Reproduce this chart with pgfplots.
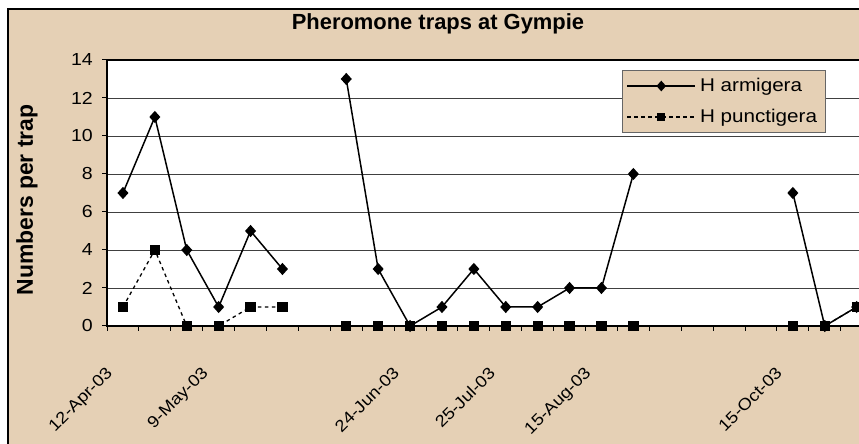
\documentclass[border=0pt]{standalone}
\usepackage{pgfplots}
\pgfplotsset{compat=1.18}
\usepackage{fontspec}
\setmainfont{Liberation Sans}
\newfontfamily\widefont[FakeStretch=1.12]{Liberation Sans}
\definecolor{charttan}{RGB}{229,208,181}
\pgfplotsset{
  longlegend/.style={legend image code/.code={%
    \draw[mark repeat=2,mark phase=2,##1] plot coordinates {(0bp,0bp) (34bp,0bp) (68bp,0bp)};}},
}
\begin{document}
\begin{tikzpicture}[x=1bp,y=1bp]
\useasboundingbox (0,0) rectangle (859,444);
\clip (0,0) rectangle (859,444);
\fill[white] (0,0) rectangle (859,444);
% chart area
\filldraw[fill=charttan, draw=black, line width=1.5bp] (8,-20) rectangle (900,435);
\begin{axis}[
  at={(107bp,118bp)}, anchor=south west,
  scale only axis, width=765.6bp, height=266bp,
  xmin=-0.5, xmax=23.5, ymin=0, ymax=14,
  axis background/.style={fill=white},
  axis line style={black, line width=1.3bp},
  unbounded coords=jump,
  xtick={-0.5,0.5,...,23.5}, xticklabels={},
  extra x ticks={0,3,9,12,15,21},
  extra x tick labels={12-Apr-03,9-May-03,24-Jun-03,25-Jul-03,15-Aug-03,15-Oct-03},
  extra x tick style={major tick length=0pt,
    xticklabel style={font=\widefont\fontsize{16.5}{20}\selectfont,
      xshift=-18bp, yshift=-40bp, rotate=45, anchor=north east, inner sep=0pt}},
  ytick={0,2,...,14},
  ymajorgrids, grid style={black!75, line width=0.8bp},
  tick align=outside, major tick length=5bp,
  tick style={black, line width=1bp},
  xtick pos=left, ytick pos=left,
  yticklabel style={font=\widefont\fontsize{17.5}{21}\selectfont,
    anchor=east, inner sep=0pt, xshift=-9bp},
  /pgf/number format/assume math mode=true,
  title={Pheromone traps at Gympie},
  title style={font=\bfseries\fontsize{22}{26}\selectfont,
    at={(axis description cs:0.4323,1.094)}, anchor=base},
  ylabel={Numbers per trap},
  ylabel style={font=\bfseries\fontsize{23}{27}\selectfont,
    at={(axis description cs:-0.1045,0.4737)}, anchor=center},
  legend style={at={(axis description cs:0.6727,0.962)}, anchor=north west,
    fill=charttan, draw=black!60, line width=1bp,
    font=\widefont\fontsize{18.5}{22}\selectfont, cells={anchor=west},
    inner xsep=4bp, inner ysep=6bp, row sep=12bp,
    nodes={inner xsep=4bp, inner ysep=2bp}},
]
% H armigera
\addplot[black, line width=1.5bp, mark=diamond*, mark size=5bp,
  mark options={solid, xscale=1.2}, forget plot] coordinates {
  (0,7) (1,11) (2,4) (3,1) (4,5) (5,3) (6,nan)
  (7,13) (8,3) (9,0) (10,1) (11,3) (12,1) (13,1) (14,2) (15,2) (16,8) (17,nan)
  (21,7) (22,0) (23,1)
};
% H punctigera
\addplot[black, line width=1.3bp, dash pattern=on 3.5bp off 3.5bp, mark=square*, mark size=4.5bp,
  mark options={solid}, forget plot] coordinates {
  (0,1) (1,4) (2,0) (3,0) (4,1) (5,1) (6,nan)
  (7,0) (8,0) (9,0) (10,0) (11,0) (12,0) (13,0) (14,0) (15,0) (16,0) (17,nan)
  (21,0) (22,0) (23,1)
};
\addlegendimage{longlegend, black, line width=1.5bp, mark=diamond*, mark size=4.2bp, mark options={solid, xscale=1.2}}
\addlegendentry{H armigera}
\addlegendimage{longlegend, black, line width=1.3bp, dash pattern=on 3.5bp off 3.5bp, mark=square*, mark size=3.2bp, mark options={solid}}
\addlegendentry{H punctigera}
\end{axis}
\end{tikzpicture}
\end{document}
